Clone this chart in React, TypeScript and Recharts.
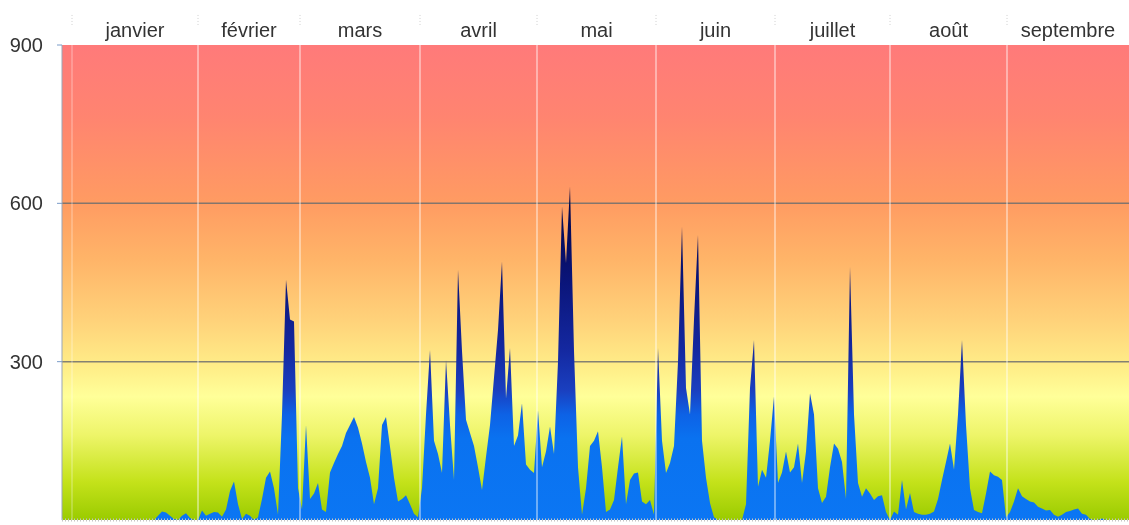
import React from 'react';
import { AreaChart, Area, XAxis, YAxis, CartesianGrid, ReferenceLine } from 'recharts';

// one value per day-ish step
const values = [
  0, 0, 0, 0, 0, 0, 0, 0, 0, 0,
  0, 0, 0, 0, 0, 0, 0, 0, 0, 0,
  0, 0, 0, 0, 8, 16, 14, 8, 2, 0,
  8, 13, 4, 0, 0, 18, 8, 12, 15, 14,
  6, 20, 55, 73, 30, 2, 12, 8, 0, 5,
  40, 80, 92, 60, 10, 200, 455, 380, 376, 60,
  20, 180, 40, 50, 70, 20, 15, 90, 108, 125,
  140, 165, 180, 195, 175, 145, 110, 80, 30, 60,
  180, 195, 139, 80, 35, 40, 47, 30, 12, 5,
  60, 200, 322, 150, 125, 89, 303, 180, 76, 474,
  320, 190, 165, 140, 100, 57, 120, 180, 270, 360,
  490, 230, 326, 140, 160, 221, 105, 95, 89, 208,
  100, 130, 177, 125, 300, 594, 487, 632, 320, 100,
  10, 60, 140, 150, 168, 100, 15, 20, 38, 100,
  158, 30, 76, 88, 90, 35, 30, 38, 10, 326,
  150, 89, 108, 140, 300, 556, 250, 200, 380, 540,
  150, 80, 32, 5, 0, 0, 0, 0, 0, 0,
  0, 30, 250, 341, 63, 95, 80, 150, 234, 70,
  90, 130, 90, 100, 145, 70, 130, 240, 200, 60,
  32, 44, 100, 145, 135, 110, 40, 480, 200, 70,
  44, 60, 50, 38, 45, 47, 15, 0, 16, 10,
  76, 20, 51, 15, 12, 10, 10, 12, 16, 40,
  76, 110, 145, 95, 200, 341, 180, 60, 19, 15,
  13, 50, 92, 85, 82, 76, 5, 15, 35, 60,
  45, 40, 35, 33, 25, 22, 18, 19, 10, 6,
  10, 15, 17, 20, 22, 12, 10, 2, 0, 0,
  3, 0, 0, 0, 0, 0, 0,
];

const monthNames = ['janvier', 'février', 'mars', 'avril', 'mai', 'juin', 'juillet', 'août', 'septembre'];
// start of each month, in day steps
const monthStarts = [2.5, 34, 59.5, 89.5, 118.75, 148.5, 178.25, 207, 236.25];
const lastDay = 266.75;
const yTicks = [0, 300, 600, 900];
const gridValues = [300, 600];

const data = values.map((v, i) => ({ day: i, v }));
const monthCenters = monthStarts.map((s, i) => (s + (monthStarts[i + 1] ?? lastDay)) / 2);

export default function App() {
  return (
    <div
      style={{
        position: 'fixed',
        left: 0,
        top: 0,
        width: 1129,
        height: 525,
        overflow: 'hidden',
        fontFamily: '"Liberation Sans", Arial, sans-serif',
      }}
    >
      <AreaChart width={1129} height={525} data={data} margin={{ top: 45, right: 0, bottom: 0, left: 0 }}>
        <defs>
          <linearGradient id="bgFill" x1="0" y1="0" x2="0" y2="1">
            <stop offset="0" stopColor="#ff7a7a" />
            <stop offset="0.15" stopColor="#ff8470" />
            <stop offset="0.33" stopColor="#ff9b62" />
            <stop offset="0.45" stopColor="#ffb468" />
            <stop offset="0.58" stopColor="#ffd27a" />
            <stop offset="0.68" stopColor="#ffee88" />
            <stop offset="0.74" stopColor="#ffff99" />
            <stop offset="0.82" stopColor="#eef56a" />
            <stop offset="0.92" stopColor="#c4e21a" />
            <stop offset="1" stopColor="#9acb00" />
          </linearGradient>
          {/* absolute y so tall spikes darken towards their tips */}
          <linearGradient id="blueFill" gradientUnits="userSpaceOnUse" x1="0" y1="180" x2="0" y2="520">
            <stop offset="0" stopColor="#000038" />
            <stop offset="0.29" stopColor="#0a1478" />
            <stop offset="0.5" stopColor="#1428a0" />
            <stop offset="0.62" stopColor="#1a40c0" />
            <stop offset="0.69" stopColor="#0d62e6" />
            <stop offset="0.76" stopColor="#0a72f0" />
            <stop offset="1" stopColor="#0b76f3" />
          </linearGradient>
        </defs>
        <CartesianGrid
          fill="url(#bgFill)"
          fillOpacity={1}
          vertical={false}
          horizontalValues={gridValues}
          stroke="#6e6e6e"
          strokeOpacity={0.85}
          strokeWidth={1.5}
        />
        <XAxis
          dataKey="day"
          type="number"
          domain={[0, lastDay]}
          height={5}
          tick={false}
          tickLine={false}
          axisLine={{ stroke: '#c4c4c4', strokeWidth: 3, strokeDasharray: '1 2' }}
        />
        <YAxis
          domain={[0, 900]}
          ticks={yTicks}
          width={62}
          tickSize={5}
          tickMargin={14}
          tickLine={{ stroke: '#7a9cc8' }}
          axisLine={{ stroke: '#9aa6b8' }}
          tick={{ fontSize: 20, fill: '#333' }}
        />
        <Area
          type="linear"
          dataKey="v"
          fill="url(#blueFill)"
          fillOpacity={1}
          stroke="none"
          dot={false}
          activeDot={false}
          isAnimationActive={false}
        />
        {monthStarts.map((s, i) => (
          <ReferenceLine
            key={'m' + i}
            x={s}
            stroke="#ffffff"
            strokeOpacity={i === 0 ? 0.3 : 0.55}
            strokeWidth={1.5}
          />
        ))}
        {monthStarts.map((s, i) => (
          <ReferenceLine
            key={'t' + i}
            ifOverflow="visible"
            segment={[{ x: s, y: 938 }, { x: s, y: 958 }]}
            stroke="#cfcfcf"
            strokeDasharray="1 2"
          />
        ))}
        {monthNames.map((name, i) => (
          <ReferenceLine
            key={name}
            x={monthCenters[i]}
            stroke="none"
            label={{ value: name, position: 'top', offset: 8, fontSize: 20, fill: '#333' }}
          />
        ))}
      </AreaChart>
    </div>
  );
}
